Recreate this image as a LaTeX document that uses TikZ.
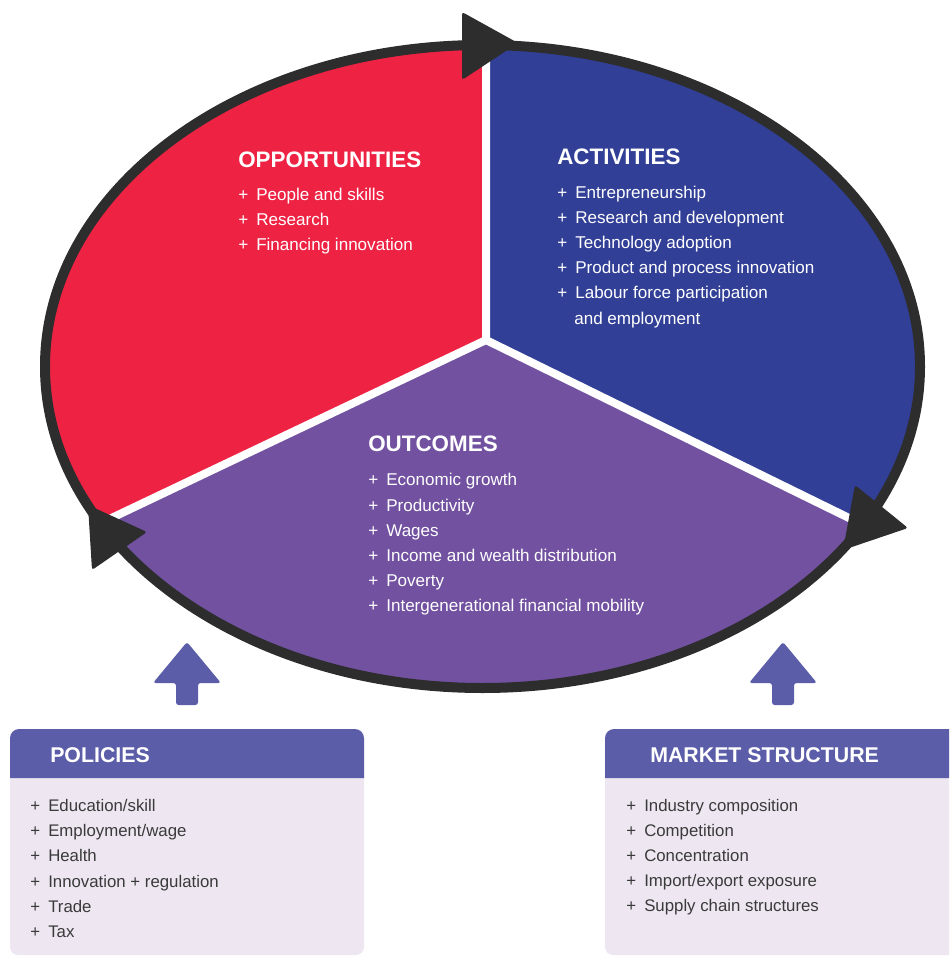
\documentclass[tikz,border=0pt]{standalone}
\usepackage{fontspec}
\setmainfont{Liberation Sans}

\definecolor{oppred}{HTML}{EE2344}
\definecolor{actblue}{HTML}{313F96}
\definecolor{outpurple}{HTML}{7151A0}
\definecolor{cycledark}{HTML}{2D2D2D}
\definecolor{boxhead}{HTML}{5B5DA8}
\definecolor{boxbody}{HTML}{EEE7F2}
\definecolor{itemgray}{HTML}{3A3A3A}

\tikzset{
  heading/.style={anchor=west, inner sep=0pt, text height=1.4ex, text depth=0pt, text=white,
    font=\bfseries\fontsize{16.8}{20}\selectfont},
  boxheading/.style={heading, font=\bfseries\fontsize{16}{19}\selectfont},
  item/.style={anchor=west, inner sep=0pt, text height=1.45ex, text depth=0pt, text=white,
    font=\fontsize{12.8}{15}\selectfont},
  boxitem/.style={item, text=itemgray, font=\fontsize{12.6}{15}\selectfont},
  cycletip/.style={fill=cycledark, rounded corners=2pt},
  feedarrow/.style={fill=boxhead, rounded corners=2pt}
}

\begin{document}
\begin{tikzpicture}[x=0.75pt, y=-0.75pt]

\useasboundingbox (0,0) rectangle (949,956);

\coordinate (C) at (486,340);
\coordinate (T) at (486,0);
\coordinate (L) at (0,571);
\coordinate (R) at (949,567);

\begin{scope}
\clip (482.5,366.5) ellipse [x radius=437.5, y radius=321.5];
\fill [oppred] (C) -- (T) -- (0,0) -- (L) -- cycle;
\fill [actblue] (C) -- (T) -- (949,0) -- (R) -- cycle;
\fill [outpurple] (C) -- (L) -- (0,956) -- (949,956) -- (R) -- cycle;
\draw [white, line width=6pt] (T) -- (C) -- (L);
\draw [white, line width=6pt] (C) -- (R);
\end{scope}
\draw [cycledark, line width=7.5pt] (482.5,366.5) ellipse [x radius=437.5, y radius=321.5];

\fill [cycletip] (462,12) -- (518,43) -- (462,80) -- cycle;
\fill [cycletip] (88,505) -- (147,532) -- (92,570) -- cycle;
\fill [cycletip] (855,485) -- (908,528) -- (843,550) -- cycle;

\node [heading] (opp) at (238,163) {OPPORTUNITIES};
\foreach \txt [count=\i] in {People and skills, Research, Financing innovation} {
    \node [item] (opp-p\i) at (238,169.6+25.4*\i) {+};
    \node [item] (opp-\i)  at (256,169.6+25.4*\i) {\txt};
}

\node [heading] (act) at (557,160) {ACTIVITIES};
\foreach \txt [count=\i] in {Entrepreneurship, Research and development, Technology adoption,
    Product and process innovation, Labour force participation} {
    \node [item] (act-p\i) at (557,167.8+25.2*\i) {+};
    \node [item] (act-\i)  at (575,167.8+25.2*\i) {\txt};
}
\node [item] (act-5b) at (574,319) {and employment};

\node [heading] (out) at (368,447) {OUTCOMES};
\foreach \txt [count=\i] in {Economic growth, Productivity, Wages,
    Income and wealth distribution, Poverty, Intergenerational financial mobility} {
    \node [item] (out-p\i) at (368,455.6+25.2*\i) {+};
    \node [item] (out-\i)  at (386,455.6+25.2*\i) {\txt};
}

\fill [feedarrow] (187,642) -- (221,683) -- (198,683) -- (198,705) -- (176,705) -- (176,683) -- (153,683) -- cycle;
\fill [feedarrow] (783,642) -- (817,683) -- (794,683) -- (794,705) -- (772,705) -- (772,683) -- (749,683) -- cycle;

\fill [boxbody, rounded corners=6pt] (10,729) rectangle (364,955);
\fill [boxhead] (10,778) {[rounded corners=7pt] -- (10,729) -- (364,729)} -- (364,778) -- cycle;
\node [boxheading] (pol) at (50,758) {POLICIES};
\foreach \txt [count=\i] in {Education/skill, Employment/wage, Health,
    Innovation + regulation, Trade, Tax} {
    \node [boxitem] (pol-p\i) at (30,781.2+25.2*\i) {+};
    \node [boxitem] (pol-\i)  at (48,781.2+25.2*\i) {\txt};
}

\fill [boxbody] (949,955) {[rounded corners=6pt] -- (605,955) -- (605,729)} -- (949,729) -- cycle;
\fill [boxhead] (605,778) {[rounded corners=7pt] -- (605,729)} -- (949,729) -- (949,778) -- cycle;
\node [boxheading] (mkt) at (650,758) {MARKET STRUCTURE};
\foreach \txt [count=\i] in {Industry composition, Competition, Concentration,
    Import/export exposure, Supply chain structures} {
    \node [boxitem] (mkt-p\i) at (626,781.2+25*\i) {+};
    \node [boxitem] (mkt-\i)  at (644,781.2+25*\i) {\txt};
}

\end{tikzpicture}
\end{document}
